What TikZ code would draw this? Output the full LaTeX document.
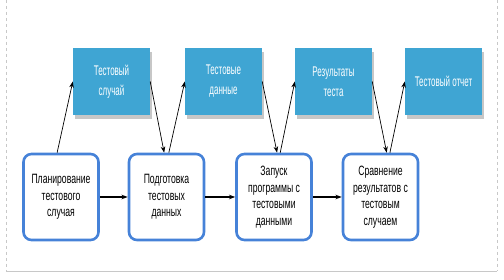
\documentclass[tikz,border=0pt]{standalone}
\usepackage{fontspec}
\setmainfont{Liberation Sans}
\newfontfamily\stepfont{Liberation Sans}[FakeStretch=0.64]
\newfontfamily\itemfont{Liberation Sans}[FakeStretch=0.57]
\usetikzlibrary{arrows.meta,shadows}
\definecolor{itemfill}{HTML}{3FA5D3}
\definecolor{stepline}{HTML}{4682D8}
\definecolor{framegray}{HTML}{C8C8C8}
\tikzset{
  >={Stealth[length=2.2mm,width=1.6mm]},
  item/.style={fill=itemfill, minimum width=77pt, minimum height=67pt, align=center,
    text=white, font=\itemfont\fontsize{14}{20}\selectfont,
    drop shadow={shadow xshift=1.5pt, shadow yshift=-4pt, fill=black!22, opacity=1}},
  stepbox/.style={draw=stepline, line width=2.6pt, rounded corners=8pt, fill=white,
    minimum width=75pt, minimum height=86pt, align=center,
    font=\stepfont\fontsize{13.5}{16.5}\selectfont},
  link/.style={->, draw=black, line width=.7pt},
  flow/.style={->, draw=black, line width=1.4pt}
}
\begin{document}
\begin{tikzpicture}[x=1pt,y=-1pt]
\useasboundingbox (0,0) rectangle (504,280);

% page frame
\draw[framegray, dashed, line width=.8pt] (6,0) -- (6,271);
\draw[framegray, line width=.8pt] (6,271) -- (497,271);
\draw[framegray, dashed, line width=.8pt] (497,0) -- (497,271);

% test artefacts
\node[item] (case)   at (111.5,81.5) {Тестовый\\случай};
\node[item] (data)   at (223.5,81.5) {Тестовые\\данные};
\node[item] (result) at (333.5,81.5) {Результаты\\теста};
\node[item] (report) at (443.5,81.5) {Тестовый отчет};

% process steps
\node[stepbox] (plan)    at (61,197)    {Планирование\\тестового\\случая};
\node[stepbox] (prepare) at (166.5,197) {Подготовка\\тестовых\\данных};
\node[stepbox] (run)     at (274,197)   {Запуск\\программы с\\тестовыми\\данными};
\node[stepbox] (compare) at (380.5,197) {Сравнение\\результатов с\\тестовым\\случаем};

\draw[flow] (plan) -- (prepare);
\draw[flow] (prepare) -- (run);
\draw[flow] (run) -- (compare);

% inputs and outputs
\draw[link] (plan.95) -- (case.west);
\draw[link] (case.east) -- (prepare.93);
\draw[link] (prepare.87) -- (data.west);
\draw[link] (data.east) -- (run.86);
\draw[link] (run.82) -- (result.west);
\draw[link] (result.east) -- (compare.82);
\draw[link] (compare.78) -- (report.west);

\end{tikzpicture}
\end{document}
